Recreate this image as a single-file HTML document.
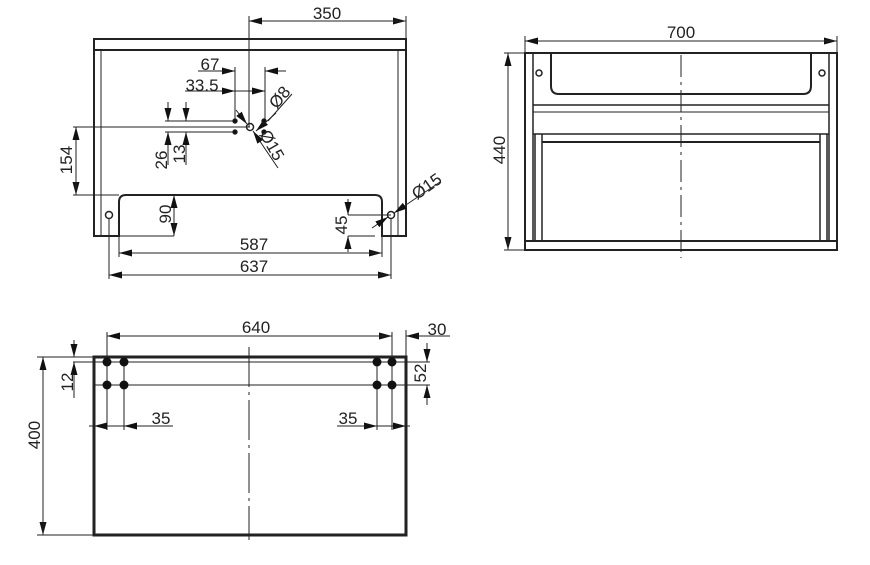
<!DOCTYPE html>
<html><head><style>body{margin:0;background:#fff}svg{display:block}text{font-family:"Liberation Sans",sans-serif;font-size:17px;fill:#222}</style></head><body>
<svg width="870" height="565" viewBox="0 0 870 565" xmlns="http://www.w3.org/2000/svg">
<defs><marker id="a" markerWidth="13" markerHeight="7" refX="13" refY="3.5" orient="auto" markerUnits="userSpaceOnUse"><path d="M0,0L13,3.5L0,7z" fill="#111"/></marker></defs>
<g stroke="#222" stroke-width="1" fill="none">
<rect x="94" y="39" width="312" height="11" stroke-width="2"/>
<path d="M94,50V236H119V202Q119,195 126,195H375Q382,195 382,202V236H406V50" stroke-width="2"/>
<line x1="101" y1="50" x2="101" y2="236"/><line x1="398" y1="50" x2="398" y2="236"/>
<circle cx="109" cy="215" r="3.5" stroke-width="1.5"/><circle cx="391" cy="215" r="3.5" stroke-width="1.5"/>
<circle cx="250" cy="127" r="3.5" stroke-width="1.5"/>
<line x1="249" y1="16" x2="249" y2="127"/><line x1="406" y1="16" x2="406" y2="39"/>
<line x1="249" y1="21" x2="406" y2="21" marker-end="url(#a)"/><line x1="406" y1="21" x2="249" y2="21" marker-end="url(#a)"/>
<line x1="235" y1="67" x2="235" y2="121"/><line x1="265" y1="67" x2="265" y2="121"/>
<line x1="198" y1="71" x2="235" y2="71" marker-end="url(#a)"/><line x1="286" y1="71" x2="265" y2="71" marker-end="url(#a)"/>
<line x1="185" y1="91" x2="235" y2="91" marker-end="url(#a)"/><line x1="235" y1="91" x2="265" y2="91" marker-end="url(#a)"/>
<line x1="165" y1="121" x2="235" y2="121"/><line x1="165" y1="132" x2="235" y2="132"/>
<line x1="73" y1="127" x2="250" y2="127"/>
<line x1="168" y1="102" x2="168" y2="121" marker-end="url(#a)"/><line x1="168" y1="165" x2="168" y2="132" marker-end="url(#a)"/>
<line x1="186" y1="102" x2="186" y2="121" marker-end="url(#a)"/><line x1="186" y1="165" x2="186" y2="132" marker-end="url(#a)"/>
<line x1="73" y1="195" x2="119" y2="195"/>
<line x1="76" y1="127" x2="76" y2="195" marker-end="url(#a)"/><line x1="76" y1="195" x2="76" y2="127" marker-end="url(#a)"/>
<line x1="119" y1="236" x2="174" y2="236"/>
<line x1="174" y1="195" x2="174" y2="236" marker-end="url(#a)"/><line x1="174" y1="236" x2="174" y2="195" marker-end="url(#a)"/>
<line x1="348" y1="215" x2="391" y2="215"/><line x1="348" y1="236" x2="375" y2="236"/>
<line x1="348" y1="199" x2="348" y2="215" marker-end="url(#a)"/><line x1="348" y1="252" x2="348" y2="236" marker-end="url(#a)"/>
<line x1="119" y1="236" x2="119" y2="257"/><line x1="382" y1="236" x2="382" y2="257"/>
<line x1="119" y1="253" x2="382" y2="253" marker-end="url(#a)"/><line x1="382" y1="253" x2="119" y2="253" marker-end="url(#a)"/>
<line x1="109" y1="219" x2="109" y2="279"/><line x1="391" y1="219" x2="391" y2="279"/>
<line x1="109" y1="275" x2="391" y2="275" marker-end="url(#a)"/><line x1="391" y1="275" x2="109" y2="275" marker-end="url(#a)"/>
<line x1="236" y1="110" x2="247" y2="124" marker-end="url(#a)"/><line x1="278" y1="168" x2="253" y2="131" marker-end="url(#a)"/>
<line x1="292" y1="94" x2="268" y2="121"/><line x1="276" y1="113" x2="256" y2="131" marker-end="url(#a)"/>
<line x1="372" y1="228" x2="388" y2="217" marker-end="url(#a)"/><line x1="440" y1="182" x2="394" y2="213" marker-end="url(#a)"/>
<circle cx="235" cy="121" r="2.2" fill="#111"/><circle cx="235" cy="132" r="2.2" fill="#111"/><circle cx="264" cy="121" r="2.2" fill="#111"/><circle cx="264" cy="132" r="2.2" fill="#111"/>
<rect x="525" y="53" width="312" height="197" stroke-width="2"/>
<line x1="533" y1="53" x2="533" y2="241" stroke-width="1.5"/><line x1="829" y1="53" x2="829" y2="241" stroke-width="1.5"/>
<path d="M551,53V86Q551,94 559,94H803Q811,94 811,86V53" stroke-width="2"/>
<line x1="533" y1="105" x2="829" y2="105" stroke-width="1.5"/><line x1="533" y1="112" x2="829" y2="112"/>
<line x1="533" y1="134" x2="829" y2="134" stroke-width="1.5"/><line x1="542" y1="142" x2="820" y2="142" stroke-width="2"/>
<line x1="535" y1="134" x2="535" y2="241" stroke-width="1.5"/><line x1="542" y1="134" x2="542" y2="241" stroke-width="1.5"/>
<line x1="820" y1="134" x2="820" y2="241" stroke-width="1.5"/><line x1="827" y1="134" x2="827" y2="241" stroke-width="1.5"/>
<line x1="525" y1="241" x2="837" y2="241" stroke-width="2"/>
<circle cx="539" cy="73" r="3" stroke-width="1.5"/><circle cx="822" cy="73" r="3" stroke-width="1.5"/>
<line x1="681" y1="55" x2="681" y2="258" stroke-dasharray="22,5,3,5"/>
<line x1="525" y1="36" x2="525" y2="53"/><line x1="837" y1="36" x2="837" y2="53"/>
<line x1="525" y1="41" x2="837" y2="41" marker-end="url(#a)"/><line x1="837" y1="41" x2="525" y2="41" marker-end="url(#a)"/>
<line x1="504" y1="53" x2="525" y2="53"/><line x1="504" y1="250" x2="525" y2="250"/>
<line x1="508" y1="53" x2="508" y2="250" marker-end="url(#a)"/><line x1="508" y1="250" x2="508" y2="53" marker-end="url(#a)"/>
<rect x="94" y="357" width="312" height="178" stroke-width="3"/>
<line x1="249" y1="347" x2="249" y2="540" stroke-dasharray="40,5,3,5"/>
<line x1="73" y1="362" x2="430" y2="362"/><line x1="94" y1="385" x2="430" y2="385"/>
<line x1="37" y1="357" x2="94" y2="357"/><line x1="37" y1="535" x2="94" y2="535"/>
<line x1="107" y1="332" x2="107" y2="430"/><line x1="124" y1="362" x2="124" y2="430"/>
<line x1="377" y1="362" x2="377" y2="430"/><line x1="392" y1="332" x2="392" y2="430"/>
<line x1="406" y1="330" x2="406" y2="357"/>
<line x1="107" y1="336" x2="392" y2="336" marker-end="url(#a)"/><line x1="392" y1="336" x2="107" y2="336" marker-end="url(#a)"/>
<line x1="450" y1="336" x2="406" y2="336" marker-end="url(#a)"/>
<line x1="427" y1="343" x2="427" y2="362" marker-end="url(#a)"/><line x1="427" y1="405" x2="427" y2="385" marker-end="url(#a)"/>
<line x1="74" y1="340" x2="74" y2="357" marker-end="url(#a)"/><line x1="74" y1="398" x2="74" y2="362" marker-end="url(#a)"/>
<line x1="43" y1="357" x2="43" y2="535" marker-end="url(#a)"/><line x1="43" y1="535" x2="43" y2="357" marker-end="url(#a)"/>
<line x1="89" y1="426" x2="94" y2="426"/><line x1="94" y1="426" x2="173" y2="426"/>
<line x1="107" y1="426" x2="94" y2="426" marker-end="url(#a)"/><line x1="150" y1="426" x2="124" y2="426" marker-end="url(#a)"/>
<line x1="337" y1="426" x2="377" y2="426" marker-end="url(#a)"/><line x1="377" y1="426" x2="410" y2="426"/><line x1="392" y1="426" x2="406" y2="426" marker-end="url(#a)"/>
</g>
<g fill="#111"><circle cx="107" cy="362" r="4.5"/><circle cx="124" cy="362" r="4.5"/><circle cx="377" cy="362" r="4.5"/><circle cx="392" cy="362" r="4.5"/><circle cx="107" cy="385" r="4.5"/><circle cx="124" cy="385" r="4.5"/><circle cx="377" cy="385" r="4.5"/><circle cx="392" cy="385" r="4.5"/></g>
<text x="327" y="19" text-anchor="middle">350</text>
<text x="210" y="70" text-anchor="middle">67</text>
<text x="202" y="91" text-anchor="middle">33.5</text>
<text transform="translate(284,101) rotate(-50)" text-anchor="middle">Ø8</text>
<text transform="translate(267,148) rotate(60)" text-anchor="middle">Ø15</text>
<text transform="translate(430,191) rotate(-35)" text-anchor="middle">Ø15</text>
<text transform="translate(167,160) rotate(-90)" text-anchor="middle">26</text>
<text transform="translate(185,154) rotate(-90)" text-anchor="middle">13</text>
<text transform="translate(72,160) rotate(-90)" text-anchor="middle">154</text>
<text transform="translate(171,214) rotate(-90)" text-anchor="middle">90</text>
<text transform="translate(347,225) rotate(-90)" text-anchor="middle">45</text>
<text x="254" y="250" text-anchor="middle">587</text>
<text x="254" y="272" text-anchor="middle">637</text>
<text x="681" y="38" text-anchor="middle">700</text>
<text transform="translate(505,150) rotate(-90)" text-anchor="middle">440</text>
<text x="256" y="333" text-anchor="middle">640</text>
<text x="437" y="335" text-anchor="middle">30</text>
<text transform="translate(426,373) rotate(-90)" text-anchor="middle">52</text>
<text transform="translate(73,382) rotate(-90)" text-anchor="middle">12</text>
<text transform="translate(40,435) rotate(-90)" text-anchor="middle">400</text>
<text x="161" y="424" text-anchor="middle">35</text>
<text x="348" y="424" text-anchor="middle">35</text>
</svg>
</body></html>
